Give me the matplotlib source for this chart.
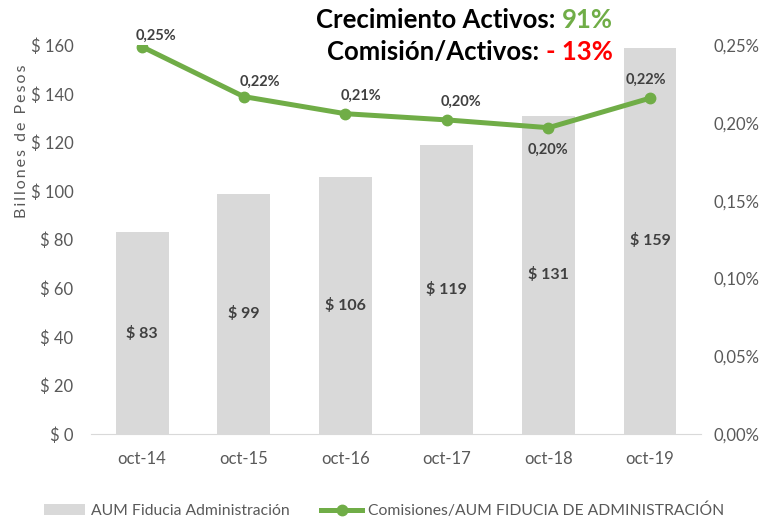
import matplotlib.pyplot as plt
from matplotlib.ticker import FuncFormatter

# data
meses = ['oct-14', 'oct-15', 'oct-16', 'oct-17', 'oct-18', 'oct-19']
aum = [83, 99, 106, 119, 131, 159]
comision = [0.249, 0.217, 0.206, 0.202, 0.197, 0.216]

# label offsets (points) for the line labels
lbl_off = [(10, 8), (12, 11), (11, 13), (10, 13), (0, -16), (-3, 13)]

FONT = ['Lato', 'DejaVu Sans']
plt.rcParams['font.family'] = FONT
GRIS = '#595959'
VERDE = '#70AD47'

fig = plt.figure(figsize=(7.61, 5.2), dpi=100)
ax = fig.add_axes([0.12, 0.165, 0.801, 0.748])
ax2 = ax.twinx()

x = range(len(meses))
bars = ax.bar(x, aum, width=0.52, color='#D9D9D9', label='AUM Fiducia Administración', zorder=1)
for xi, v in zip(x, aum):
    ax.text(xi, v / 2, f'$ {v}', ha='center', va='center', fontsize=11.5,
            fontweight='bold', color='#404040')

ln, = ax2.plot(x, comision, color=VERDE, lw=3.6, marker='o', ms=7.5,
               label='Comisiones/AUM FIDUCIA DE ADMINISTRACIÓN', zorder=3)
for xi, v, off in zip(x, comision, lbl_off):
    ax2.annotate(f'{v:.2f}%'.replace('.', ','), (xi, v), xytext=off,
                 textcoords='offset points', ha='center', va='center',
                 fontsize=10.5, fontweight='bold', color='#404040')

ax.set_xlim(-0.5, 5.5)
ax.set_ylim(0, 160)
ax2.set_ylim(0, 0.25)
ax.set_yticks(range(0, 161, 20))
ax2.set_yticks([0, 0.05, 0.10, 0.15, 0.20, 0.25])
ax.yaxis.set_major_formatter(FuncFormatter(lambda v, p: f'$ {v:.0f}'))
ax2.yaxis.set_major_formatter(FuncFormatter(lambda v, p: f'{v:.2f}%'.replace('.', ',')))
ax.set_xticks(list(x))
ax.set_xticklabels(meses)

for a in (ax, ax2):
    for s in a.spines.values():
        s.set_visible(False)
    a.tick_params(length=0, labelsize=12, colors=GRIS)
ax.spines['bottom'].set_visible(True)
ax.spines['bottom'].set_color('#D9D9D9')
ax.tick_params(axis='x', pad=12)
ax.tick_params(axis='y', pad=13)
ax2.tick_params(axis='y', pad=9)

ylab = '\u2009'.join('Billones de Pesos')
fig.text(0.029, 0.729, ylab, rotation=90, ha='center', va='center',
         fontsize=11.5, color=GRIS)

# headline: suffix right-aligned, prefix placed just left of it
fig.canvas.draw()
r = fig.canvas.get_renderer()
for yy, pre, suf, col in [(0.962, 'Crecimiento Activos: ', '91%', VERDE),
                          (0.900, 'Comisión/Activos: ', '- 13%', '#FF0000')]:
    s = fig.text(0.805, yy, suf, ha='right', va='center', fontsize=18.5,
                 fontweight='bold', color=col)
    bb = s.get_window_extent(r)
    fig.text(bb.x0 / fig.bbox.width, yy, pre, ha='right', va='center',
             fontsize=18.5, fontweight='bold', color='black')

leg = fig.legend([bars, ln], [bars.get_label(), ln.get_label()], loc='center',
                 bbox_to_anchor=(0.505, 0.018), ncol=2, frameon=False,
                 fontsize=11.3, handlelength=2.6, columnspacing=2.0,
                 handletextpad=0.4)
for t in leg.get_texts():
    t.set_color(GRIS)

fig.savefig('out.png', dpi=100)
